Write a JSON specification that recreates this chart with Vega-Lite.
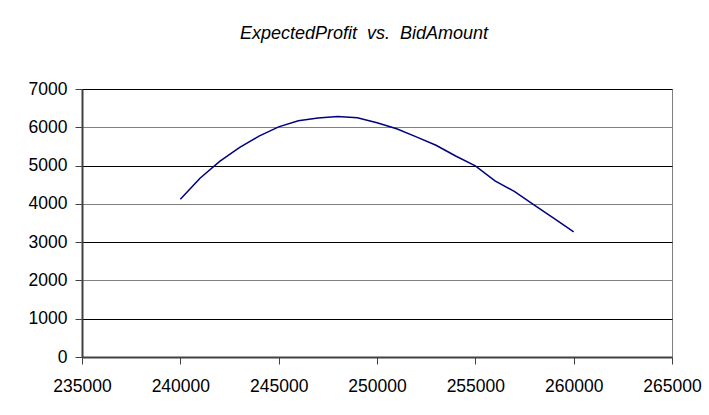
{
  "$schema": "https://vega.github.io/schema/vega-lite/v6.json",
  "width": 590,
  "height": 268,
  "autosize": {"type": "none"},
  "padding": {"left": 82, "top": 89, "right": 37, "bottom": 58},
  "background": "white",
  "title": {
    "text": "ExpectedProfit\u00a0 vs.\u00a0 BidAmount",
    "font": "Liberation Sans",
    "fontSize": 18,
    "fontStyle": "italic",
    "fontWeight": "normal",
    "color": "#000000",
    "anchor": "middle",
    "baseline": "alphabetic",
    "offset": 23,
    "dx": -13
  },
  "config": {
    "view": {"stroke": "#808080", "strokeWidth": 1},
    "axis": {
      "labelFont": "Liberation Sans",
      "labelFontSize": 17.5,
      "labelColor": "#000000",
      "title": null,
      "domainColor": "#404040",
      "domainWidth": 2,
      "tickColor": "#404040",
      "tickWidth": 1,
      "tickSize": 7
    }
  },
  "data": {
    "values": [
      {"BidAmount": 240000, "ExpectedProfit": 4120},
      {"BidAmount": 241000, "ExpectedProfit": 4670},
      {"BidAmount": 242000, "ExpectedProfit": 5110},
      {"BidAmount": 243000, "ExpectedProfit": 5470},
      {"BidAmount": 244000, "ExpectedProfit": 5770},
      {"BidAmount": 245000, "ExpectedProfit": 6010},
      {"BidAmount": 246000, "ExpectedProfit": 6170},
      {"BidAmount": 247000, "ExpectedProfit": 6240},
      {"BidAmount": 248000, "ExpectedProfit": 6280},
      {"BidAmount": 249000, "ExpectedProfit": 6250},
      {"BidAmount": 250000, "ExpectedProfit": 6120},
      {"BidAmount": 251000, "ExpectedProfit": 5960},
      {"BidAmount": 252000, "ExpectedProfit": 5750},
      {"BidAmount": 253000, "ExpectedProfit": 5530},
      {"BidAmount": 254000, "ExpectedProfit": 5250},
      {"BidAmount": 255000, "ExpectedProfit": 4990},
      {"BidAmount": 256000, "ExpectedProfit": 4600},
      {"BidAmount": 257000, "ExpectedProfit": 4320},
      {"BidAmount": 258000, "ExpectedProfit": 3970},
      {"BidAmount": 259000, "ExpectedProfit": 3620},
      {"BidAmount": 260000, "ExpectedProfit": 3270}
    ]
  },
  "mark": {"type": "line", "color": "#000080", "strokeWidth": 1.5, "clip": true},
  "encoding": {
    "x": {
      "field": "BidAmount",
      "type": "quantitative",
      "scale": {"domain": [235000, 265000], "nice": false, "zero": false},
      "axis": {
        "values": [235000, 240000, 245000, 250000, 255000, 260000, 265000],
        "format": "d",
        "grid": false,
        "labelPadding": 13,
        "labelFlush": false,
        "labelOverlap": false
      }
    },
    "y": {
      "field": "ExpectedProfit",
      "type": "quantitative",
      "scale": {"domain": [0, 7000], "nice": false},
      "axis": {
        "values": [0, 1000, 2000, 3000, 4000, 5000, 6000, 7000],
        "format": "d",
        "grid": true,
        "gridColor": {"condition": {"test": "datum.value % 2000 === 0", "value": "#808080"}, "value": "#000000"},
        "gridWidth": 1,
        "labelPadding": 8,
        "labelFlush": false,
        "labelOverlap": false
      }
    }
  }
}
